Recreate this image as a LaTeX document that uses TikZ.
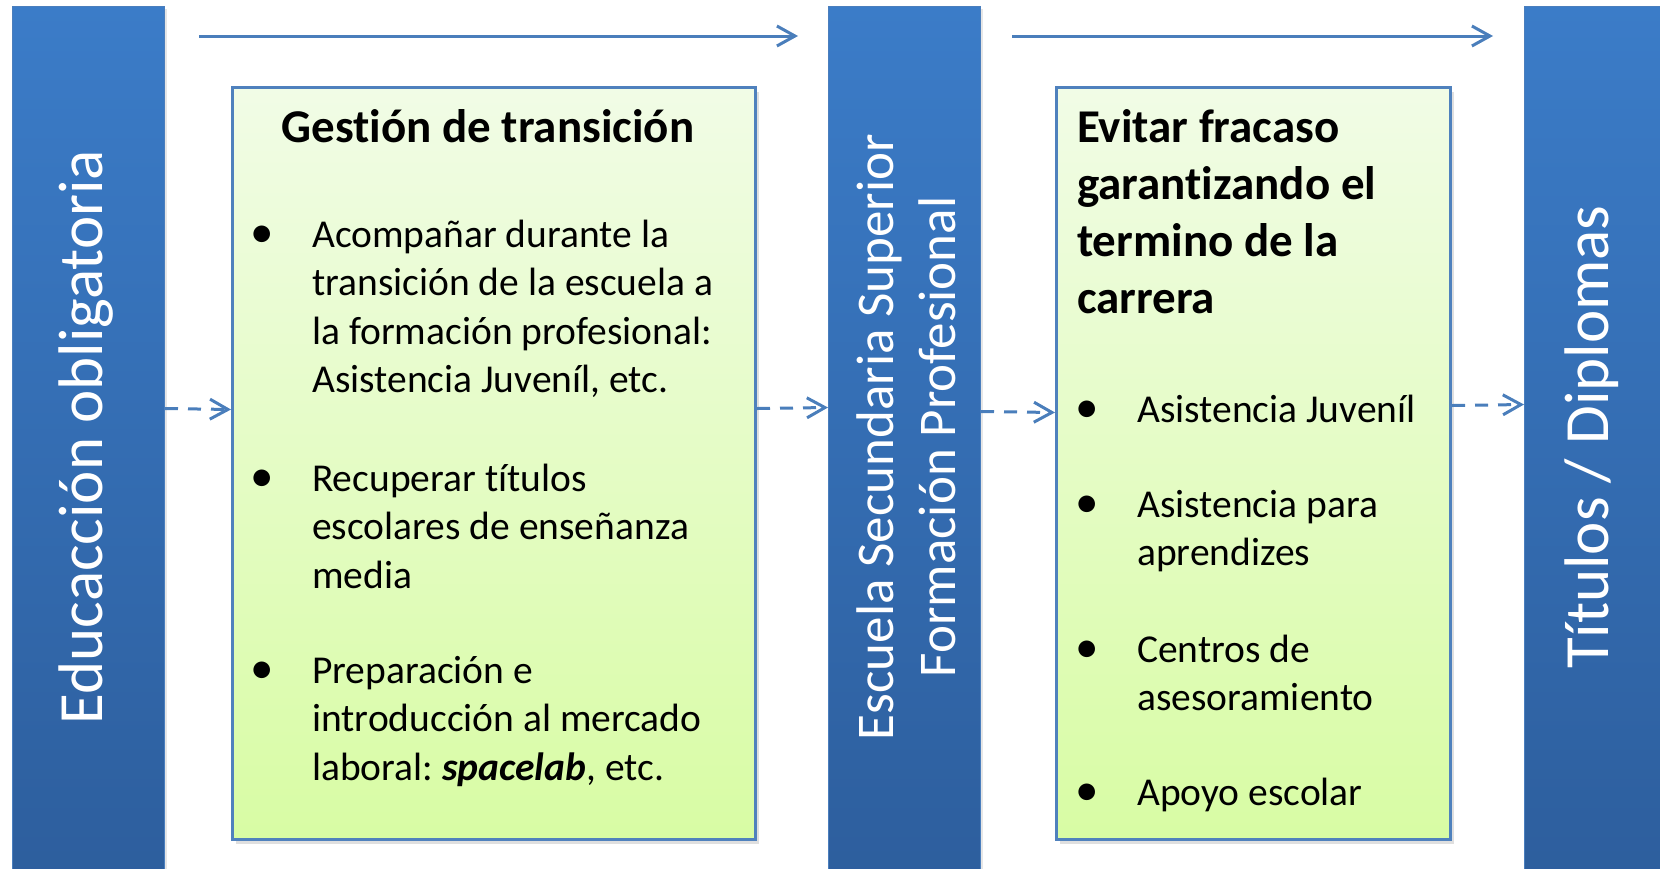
\documentclass[tikz,border=0pt]{standalone}
\usepackage{fontspec}
\setmainfont{Carlito}[Ligatures=NoCommon]
\usetikzlibrary{arrows.meta,shadows}

\definecolor{bartop}{HTML}{3B7CC8}
\definecolor{barbot}{HTML}{2D5E9D}
\definecolor{barline}{HTML}{4A7EBD}
\definecolor{paneltop}{HTML}{F1FCE6}
\definecolor{panelbot}{HTML}{D8FCA4}
\definecolor{edge}{HTML}{4F81BD}
\definecolor{arrowc}{HTML}{4A7EBB}

\newcommand\bul{\leavevmode\llap{\makebox[62pt][l]{\fontsize{47}{0}\selectfont\textbullet}}}
\frenchspacing

\begin{document}
\begin{tikzpicture}[x=1pt,y=-1pt,
  bar/.style={draw=barline, line width=1pt, top color=bartop, bottom color=barbot,
    minimum width=152pt, minimum height=874pt, anchor=north west, inner sep=0pt,
    drop shadow={shadow xshift=2pt, shadow yshift=-2pt, opacity=0.2}},
  panel/.style={draw=edge, line width=3pt, top color=paneltop, bottom color=panelbot,
    minimum height=752pt, anchor=north west, inner sep=0pt,
    drop shadow={shadow xshift=3pt, shadow yshift=-4pt, opacity=0.25}},
  bartext/.style={text=white, rotate=90, align=center, inner sep=0pt,
    font=\fontsize{63}{77}\selectfont},
  head/.style={font=\bfseries\fontsize{47}{57}\selectfont, inner sep=0pt},
  item/.style={anchor=base west, text width=440pt, align=flush left, inner sep=0pt,
    font=\fontsize{39.5}{48.5}\selectfont},
  flow/.style={draw=arrowc, line width=3pt, -{Straight Barb[length=18pt,width=20pt]}},
  link/.style={flow, dash pattern=on 13pt off 10pt}]

  \useasboundingbox (0,0) rectangle (1660,868);
  \clip (0,0) rectangle (1660,868);

  % columns
  \node (bar1) [bar] at (12,6) {};
  \node (bar2) [bar] at (828,6) {};
  \node (bar3) [bar] at (1524,6) {};
  \node (lab1) [bartext] at (86,437) {Educacción obligatoria};
  \node (lab2) [bartext, font=\fontsize{53}{62}\selectfont] at (906,437)
    {Escuela Secundaria Superior\\Formación Profesional};
  \node (lab3) [bartext] at (1592,437) {Títulos / Diplomas};

  % boxes
  \node (box1) [panel, minimum width=523pt] at (231,86) {};
  \node (box2) [panel, minimum width=394pt] at (1055,86) {};

  \node (head1) [head, anchor=base] at (488,142) {Gestión de transición};
  \node (a1) [item] at (312,247) {\bul Acompañar durante la\\transición de la escuela a\\la formación profesional:\\Asistencia Juveníl, etc.};
  \node (a2) [item] at (312,491) {\bul Recuperar títulos\\escolares de enseñanza\\media};
  \node (a3) [item] at (312,683) {\bul Preparación e\\introducción al mercado\\laboral: \textbf{\textit{spacelab}}, etc.};

  \node (head2) [head, anchor=base west, text width=360pt, align=flush left] at (1077,142)
    {Evitar fracaso\\garantizando el\\termino de la\\carrera};
  \node (b1) [item] at (1137,422) {\bul Asistencia Juveníl};
  \node (b2) [item] at (1137,517) {\bul Asistencia para\\aprendizes};
  \node (b3) [item] at (1137,662) {\bul Centros de\\asesoramiento};
  \node (b4) [item] at (1137,805) {\bul Apoyo escolar};

  % arrows
  \coordinate (s1) at (199,36);
  \coordinate (e1) at (798,36);
  \coordinate (s2) at (1012,36);
  \coordinate (e2) at (1493,36);
  \draw[flow] (s1) -- (e1);
  \draw[flow] (s2) -- (e2);

  \draw[link] ([yshift=35pt]bar1.east) -- ([yshift=54pt]box1.west);
  \draw[link] ([yshift=55pt]box1.east) -- ([yshift=36pt]bar2.east -| bar2.west);
  \draw[link] ([yshift=32pt]bar2.east) -- ([yshift=51pt]box2.west);
  \draw[link] ([yshift=58pt]box2.east) -- ([yshift=39pt]bar3.west);
\end{tikzpicture}
\end{document}
